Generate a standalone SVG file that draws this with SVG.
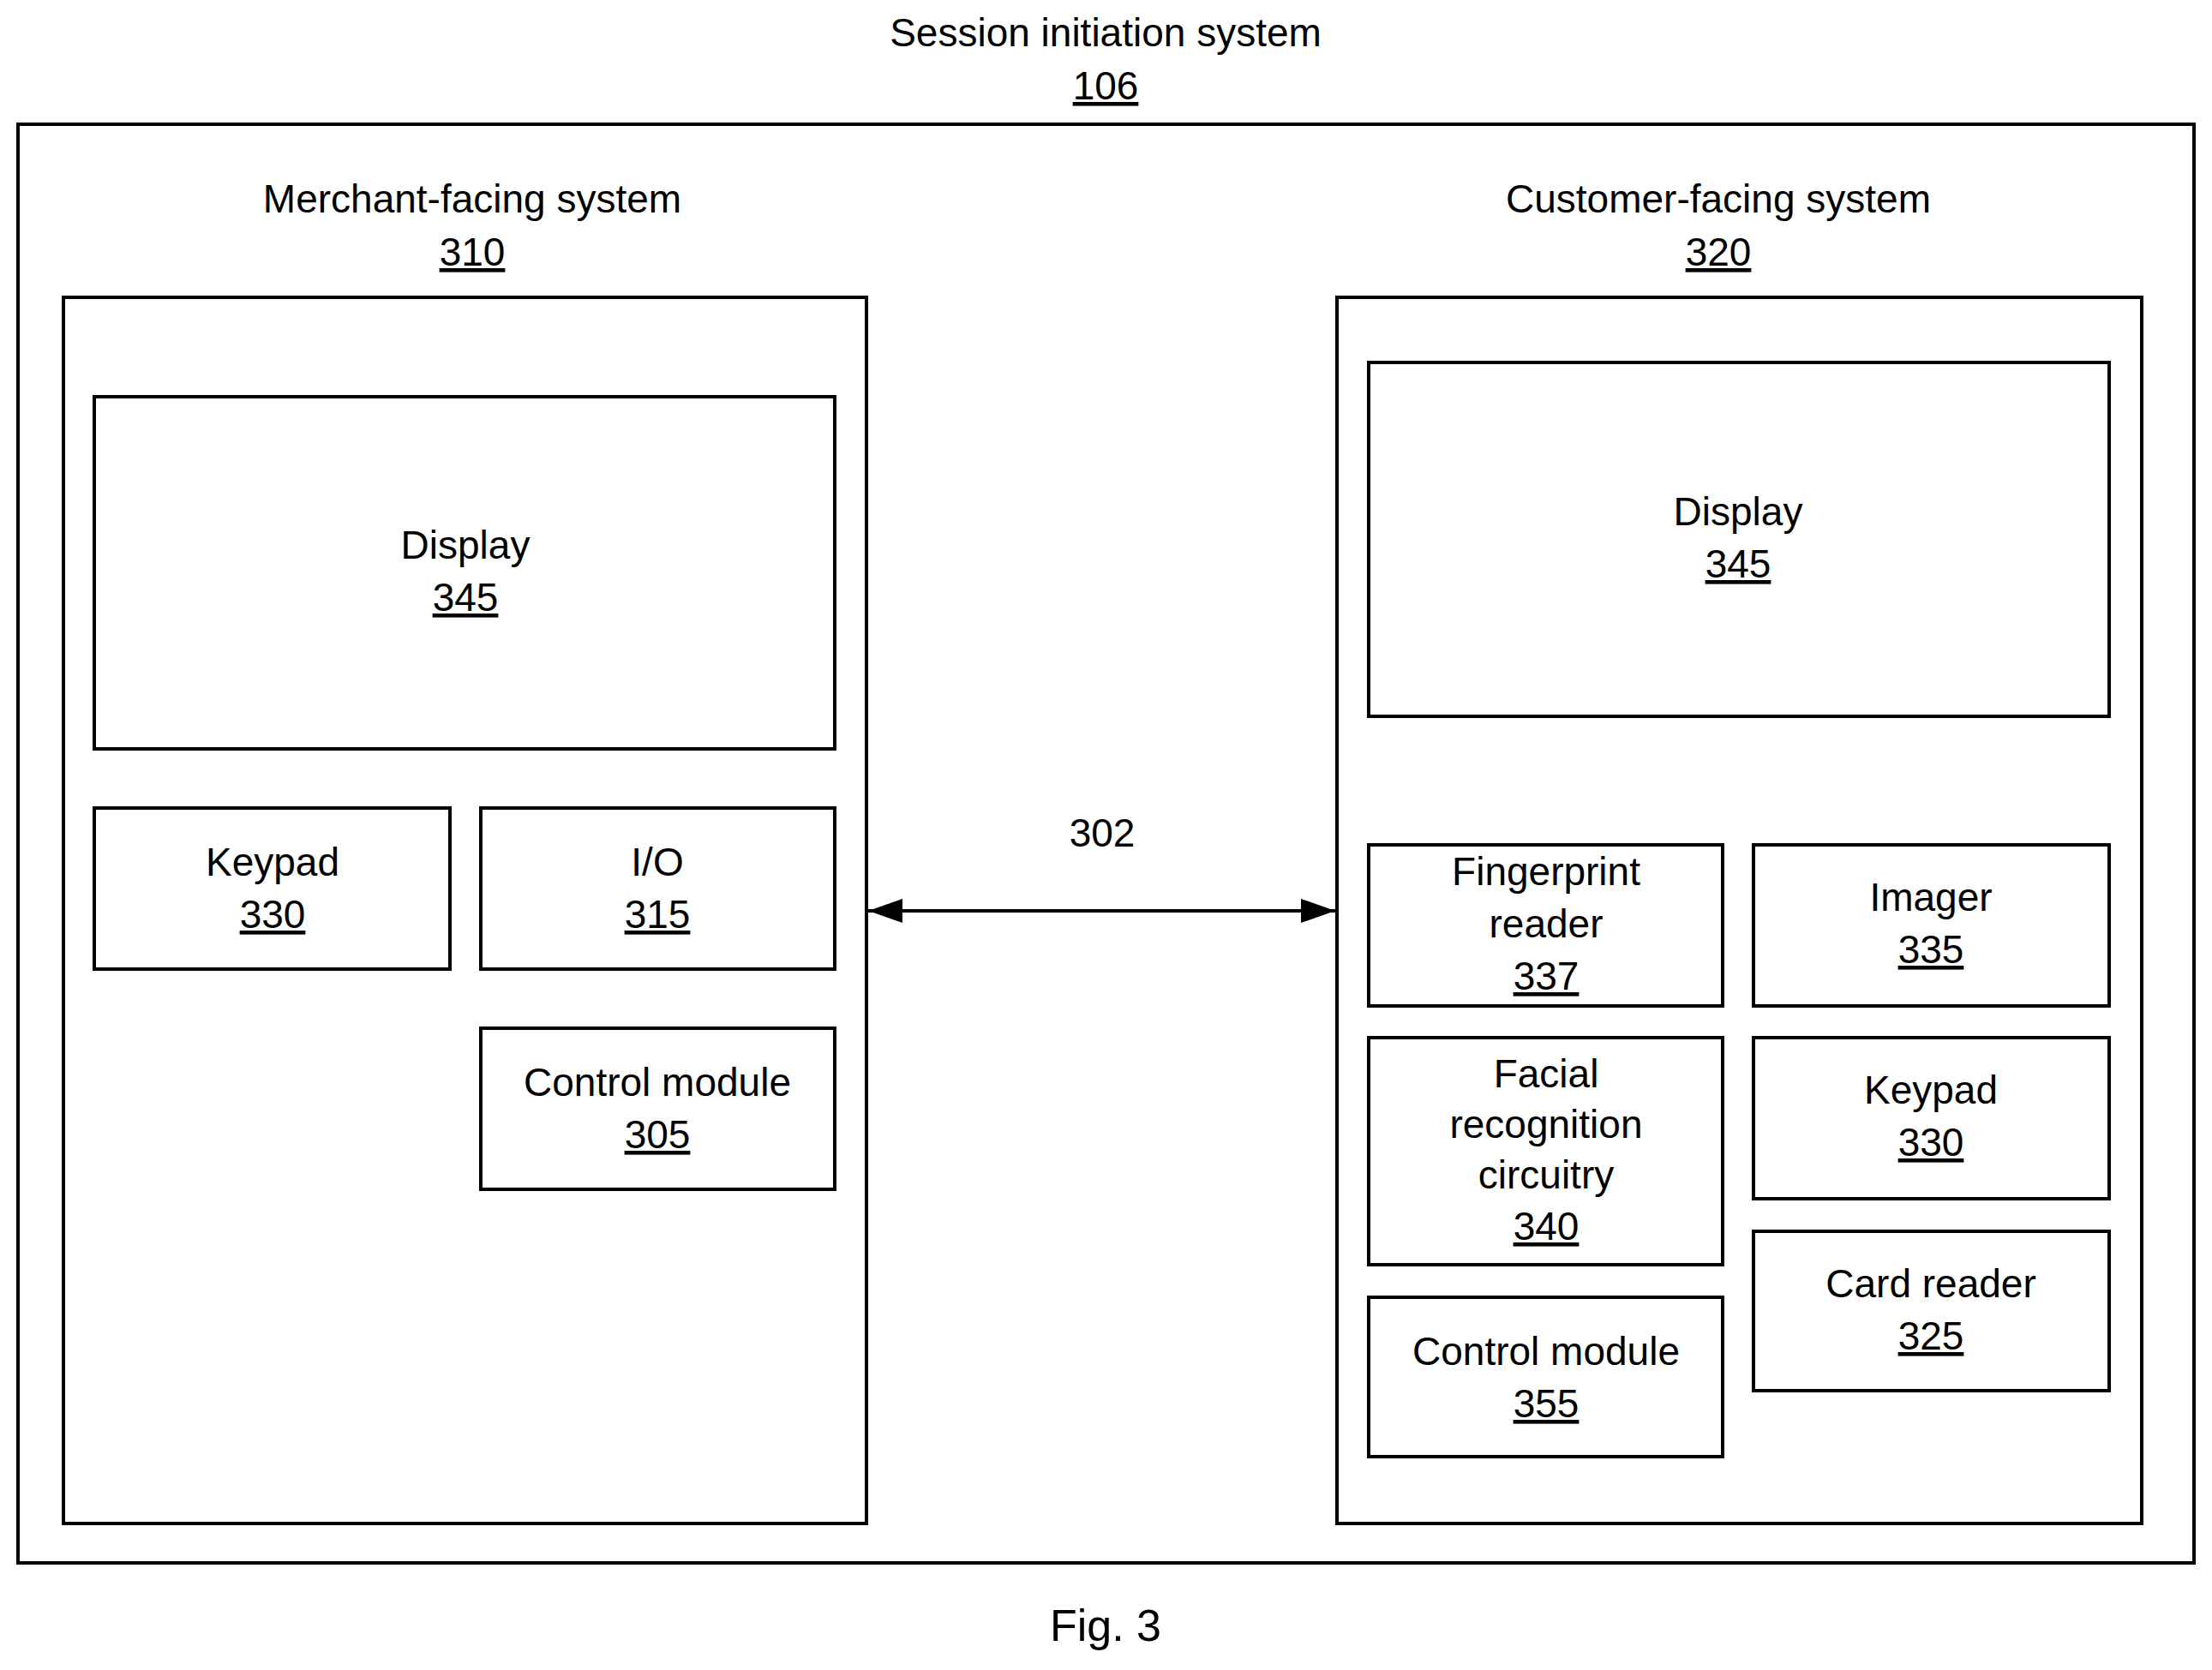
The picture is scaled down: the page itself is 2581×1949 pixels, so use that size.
<svg xmlns="http://www.w3.org/2000/svg" width="2581" height="1949" viewBox="0 0 2581 1949">
<style>
rect{fill:#fff;stroke:#000;stroke-width:4}
text{font-family:"Liberation Sans",Arial,sans-serif;font-size:46px;text-anchor:middle;fill:#000}
.u{text-decoration:underline}
</style>
<defs><marker id="a" viewBox="0 0 10 10" refX="10" refY="5" markerWidth="10" markerHeight="7" markerUnits="userSpaceOnUse" orient="auto-start-reverse"><path d="M0,0L10,5L0,10z" transform="scale(1)"/></marker>
<marker id="b" viewBox="0 0 40 28" refX="40" refY="14" markerWidth="40" markerHeight="28" markerUnits="userSpaceOnUse" orient="auto-start-reverse"><path d="M0,0L40,14L0,28z"/></marker></defs>
<rect width="2581" height="1949" style="fill:#fff;stroke:none"/>
<g id="title"><text x="1290" y="54">Session initiation system</text><text x="1290" y="116" class="u">106</text></g>
<rect x="21" y="145" width="2539" height="1679"/>
<g id="merchant"><text x="551" y="248">Merchant-facing system</text><text x="551" y="310" class="u">310</text><rect x="74" y="347" width="937" height="1431"/></g>
<g id="customer"><text x="2005" y="248">Customer-facing system</text><text x="2005" y="310" class="u">320</text><rect x="1560" y="347" width="939" height="1431"/></g>
<g id="m-display"><rect x="110" y="463" width="864" height="411"/><text x="543" y="652">Display</text><text x="543" y="713" class="u">345</text></g>
<g id="m-keypad"><rect x="110" y="943" width="415" height="188"/><text x="318" y="1022">Keypad</text><text x="318" y="1083" class="u">330</text></g>
<g id="m-io"><rect x="561" y="943" width="413" height="188"/><text x="767" y="1022">I/O</text><text x="767" y="1083" class="u">315</text></g>
<g id="m-control"><rect x="561" y="1200" width="413" height="188"/><text x="767" y="1279">Control module</text><text x="767" y="1340" class="u">305</text></g>
<g id="c-display"><rect x="1597" y="423" width="864" height="413"/><text x="2028" y="613">Display</text><text x="2028" y="674" class="u">345</text></g>
<g id="c-finger"><rect x="1597" y="986" width="413" height="188"/><text x="1804" y="1033">Fingerprint</text><text x="1804" y="1094">reader</text><text x="1804" y="1155" class="u">337</text></g>
<g id="c-imager"><rect x="2046" y="986" width="415" height="188"/><text x="2253" y="1063">Imager</text><text x="2253" y="1124" class="u">335</text></g>
<g id="c-facial"><rect x="1597" y="1211" width="413" height="265"/><text x="1804" y="1269">Facial</text><text x="1804" y="1328">recognition</text><text x="1804" y="1387">circuitry</text><text x="1804" y="1447" class="u">340</text></g>
<g id="c-keypad"><rect x="2046" y="1211" width="415" height="188"/><text x="2253" y="1288">Keypad</text><text x="2253" y="1349" class="u">330</text></g>
<g id="c-control"><rect x="1597" y="1514" width="413" height="186"/><text x="1804" y="1593">Control module</text><text x="1804" y="1654" class="u">355</text></g>
<g id="c-card"><rect x="2046" y="1437" width="415" height="186"/><text x="2253" y="1514">Card reader</text><text x="2253" y="1575" class="u">325</text></g>
<g id="connectors"><line x1="1013" y1="1063" x2="1558" y2="1063" stroke="#000" stroke-width="4" marker-start="url(#b)" marker-end="url(#b)"/><text x="1286" y="988">302</text></g>
<text x="1290" y="1915" style="font-size:52px">Fig. 3</text>
</svg>
